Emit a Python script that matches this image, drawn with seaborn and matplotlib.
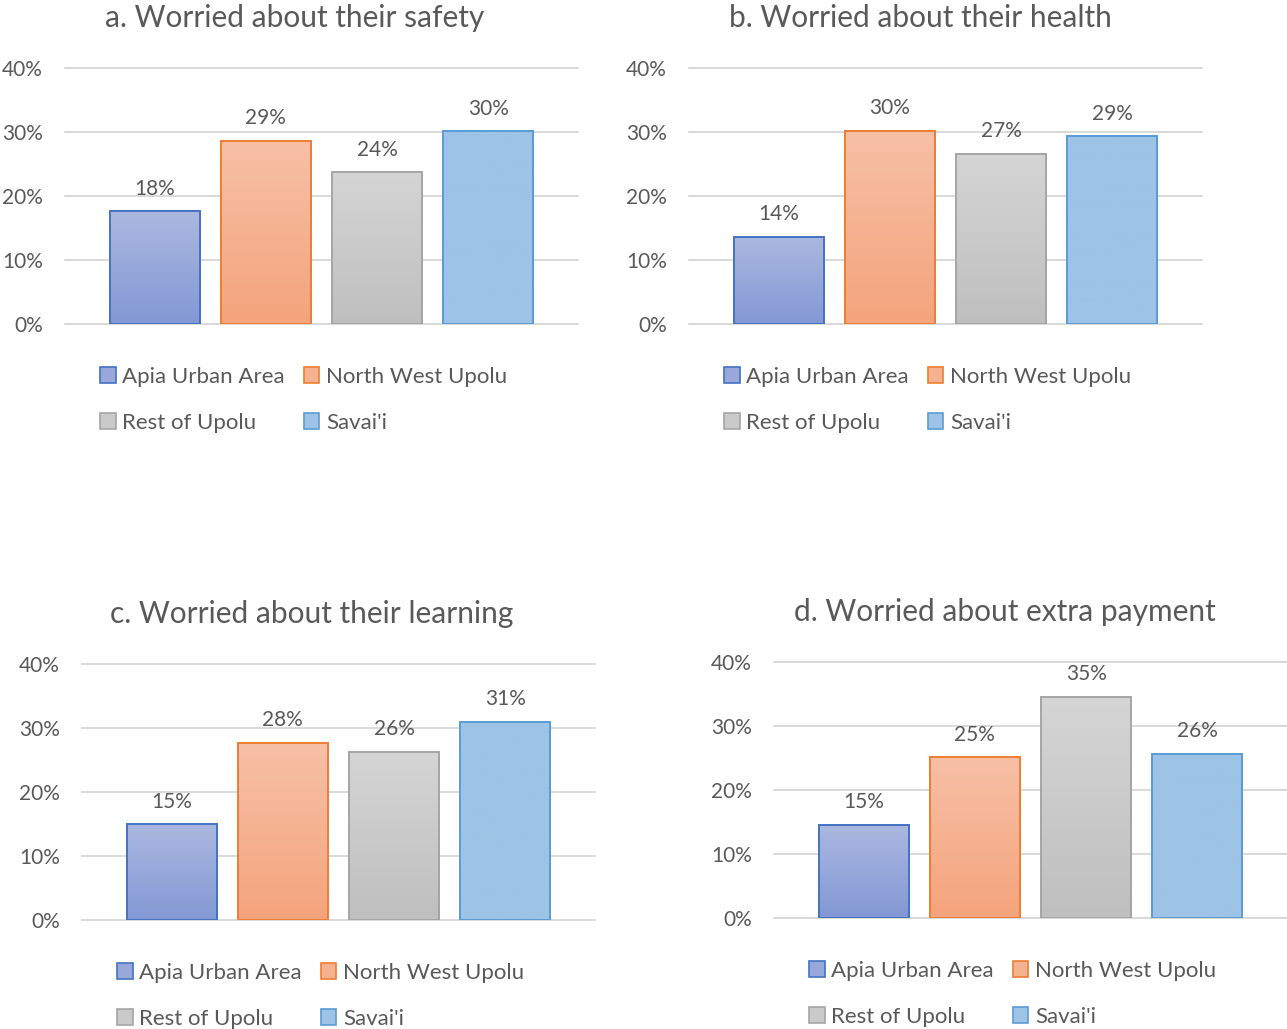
import numpy as np
import pandas as pd
import matplotlib
matplotlib.use("Agg")
import matplotlib.pyplot as plt
import seaborn as sns
from matplotlib.colors import LinearSegmentedColormap
from matplotlib.patches import Patch

W, H = 1287, 1029
DPI = 100

regions = ["Apia Urban Area", "North West Upolu", "Rest of Upolu", "Savai'i"]
titles = [
    "a. Worried about their safety",
    "b. Worried about their health",
    "c. Worried about their learning",
    "d. Worried about extra payment",
]
safety = [17.6, 28.6, 23.7, 30.1]
health = [13.6, 30.2, 26.6, 29.3]
learning = [15.0, 27.7, 26.3, 31.0]
payment = [14.6, 25.1, 34.6, 25.7]
y_ticks = [0, 10, 20, 30, 40]

edge_colors = ["#4472c4", "#ed7d31", "#a5a5a5", "#5b9bd5"]
grad_top = ["#abb8e0", "#f7c0a6", "#d5d5d5", "#9dc3e6"]
grad_bottom = ["#8398d4", "#f4a47c", "#bfbfbf", "#9dc3e6"]
legend_fill = ["#98a8da", "#f5b290", "#cacaca", "#9dc3e6"]
text_color = "#595959"
grid_color = "#d9d9d9"

# pixel geometry: axes left, top, right, bottom, title centre x, title centre y
layout = [
    (65, 68, 578, 324, 295, 18),
    (689, 68, 1202, 324, 920, 18),
    (82, 664, 595, 920, 312, 614),
    (774, 662, 1287, 918, 1005, 612),
]

sns.set_theme(style="white")
plt.rcParams["font.family"] = ["Lato", "DejaVu Sans"]


def draw_panel(fig, values, title, geom):
    left, top, right, bottom, tx, ty = geom
    ax = fig.add_axes([left / W, 1 - bottom / H, (right - left) / W, (bottom - top) / H])
    df = pd.DataFrame({"region": regions, "value": values})
    sns.barplot(data=df, x="region", y="value", hue="region", order=regions,
                hue_order=regions, palette=grad_top, width=0.81, legend=False,
                ax=ax, zorder=3)

    grad = np.linspace(1, 0, 256).reshape(-1, 1)
    for i, p in enumerate(ax.patches):
        x0, w, h = p.get_x(), p.get_width(), p.get_height()
        cmap = LinearSegmentedColormap.from_list(f"g{i}", [grad_bottom[i], grad_top[i]])
        im = ax.imshow(grad, cmap=cmap, vmin=0, vmax=1, extent=(x0, x0 + w, 0, h),
                       aspect="auto", zorder=3)
        im.set_clip_path(p)
        p.set_facecolor("none")
        p.set_edgecolor(edge_colors[i])
        p.set_linewidth(1.4)
        p.set_zorder(4)

    for c in ax.containers:
        ax.bar_label(c, fmt=lambda v: f"{v:.0f}%", padding=9, fontsize=15,
                     color=text_color)

    ax.set_xlim(-0.805, 3.805)
    ax.set_ylim(0, 40)
    ax.set_yticks(y_ticks)
    ax.set_yticklabels([f"{t}%" for t in y_ticks])
    ax.set_xticks([])
    ax.set_xlabel("")
    ax.set_ylabel("")
    ax.yaxis.grid(True, color=grid_color, linewidth=1.4)
    for line in ax.get_ygridlines():
        line.set_clip_on(False)
    ax.set_axisbelow(True)
    sns.despine(ax=ax, left=True, bottom=True)
    ax.tick_params(axis="y", length=0, pad=16, labelsize=15, labelcolor=text_color)

    fig.text(tx / W, 1 - ty / H, title, ha="center", va="center", fontsize=21.5,
             color=text_color)

    handles = [Patch(facecolor=legend_fill[i], edgecolor=edge_colors[i], linewidth=1.2)
               for i in range(len(regions))]
    order = [0, 2, 1, 3]
    fig.legend([handles[i] for i in order], [regions[i] for i in order],
               loc="upper left",
               bbox_to_anchor=((left + 35) / W, 1 - (bottom + 43) / H),
               ncol=2, frameon=False, fontsize=16, labelcolor=text_color,
               handlelength=0.7, handleheight=0.7, handletextpad=0.3,
               columnspacing=0.85, labelspacing=1.15, borderpad=0, borderaxespad=0)
    return ax


fig = plt.figure(figsize=(W / DPI, H / DPI), dpi=DPI)
for values, title, geom in zip([safety, health, learning, payment], titles, layout):
    draw_panel(fig, values, title, geom)

fig.savefig("out.png", dpi=DPI, facecolor="white")
